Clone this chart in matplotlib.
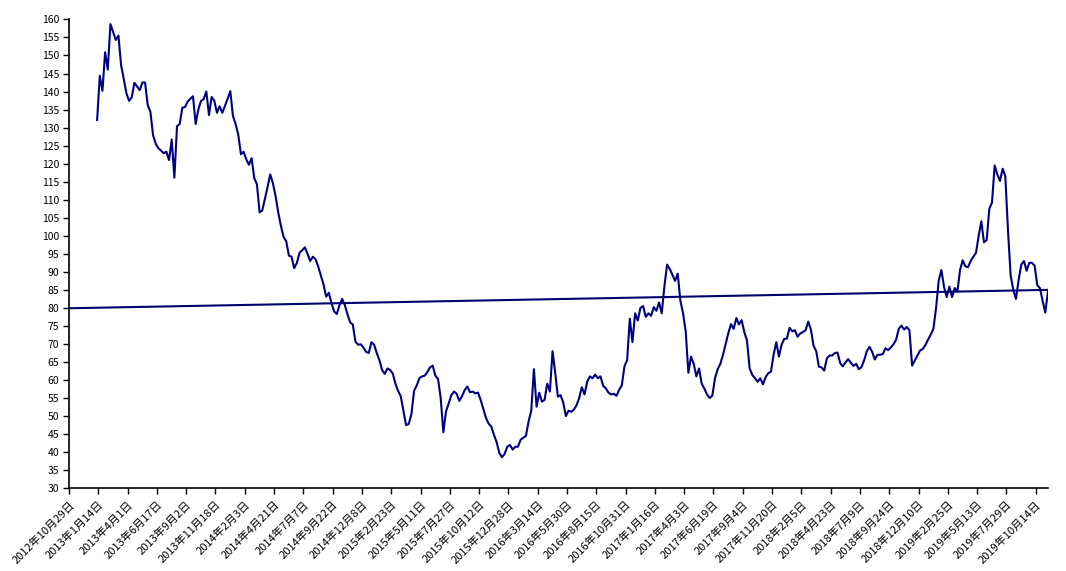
import numpy as np
import pandas as pd
import matplotlib
matplotlib.use("Agg")
import matplotlib.pyplot as plt
import matplotlib.dates as mdates

plt.rcParams["font.family"] = ["Noto Sans CJK SC", "DejaVu Sans"]

# weekly series, first point 2013-01-11
start_date = "2013-01-11"
values = [
    132.1, 144.4, 140.2, 150.9, 146.1, 158.7, 156.5, 154.3, 155.5, 147.3,
    143.5, 139.5, 137.4, 138.4, 142.4, 141.4, 140.4, 142.5, 142.5, 136.2,
    134.4, 127.9, 125.5, 124.3, 123.6, 122.9, 123.3, 121.0, 126.7, 116.1,
    130.4, 131.0, 135.5, 135.7, 137.2, 138.0, 138.7, 131.0, 135.0, 137.4,
    137.9, 140.0, 133.5, 138.5, 137.4, 134.1, 135.9, 134.1, 136.0, 138.0,
    140.1, 133.2, 131.0, 128.0, 122.6, 123.3, 121.2, 119.7, 121.5, 116.0,
    114.3, 106.5, 107.0, 110.2, 113.5, 117.0, 114.6, 111.0, 106.5, 102.8,
    99.7, 98.5, 94.5, 94.2, 91.0, 92.5, 95.3, 96.0, 96.8, 95.0,
    93.0, 94.2, 93.5, 91.5, 89.0, 86.5, 83.1, 84.2, 81.3, 79.0,
    78.3, 80.8, 82.5, 80.8, 78.2, 76.0, 75.4, 70.6, 69.8, 69.9,
    69.0, 67.8, 67.5, 70.5, 69.8, 67.5, 65.5, 62.8, 61.7, 63.2,
    62.8, 61.8, 59.0, 57.0, 55.5, 51.5, 47.5, 47.8, 50.5, 57.0,
    58.5, 60.5, 61.0, 61.2, 62.2, 63.5, 64.0, 61.2, 60.3, 55.0,
    45.5, 51.3, 53.5, 55.8, 56.8, 56.2, 54.2, 55.5, 57.2, 58.2,
    56.6, 56.8, 56.3, 56.5, 54.5, 52.0, 49.5, 47.9, 47.1, 44.8,
    42.8, 39.8, 38.6, 39.5, 41.5, 42.0, 40.7, 41.5, 41.5, 43.4,
    44.0, 44.5, 48.5, 51.5, 63.0, 52.6, 56.5, 54.0, 54.5, 59.0,
    56.8, 68.0, 62.0, 55.4, 55.8, 53.8, 50.0, 51.5, 51.2, 51.8,
    53.0, 55.0, 58.0, 56.0, 59.5, 61.0, 60.5, 61.5, 60.5, 61.0,
    58.4, 57.7, 56.5, 56.0, 56.2, 55.6, 57.3, 58.5, 63.8, 65.5,
    77.0, 70.5, 78.5, 76.5, 80.0, 80.5, 77.5, 78.5, 77.8, 80.2,
    79.2, 81.5, 78.5, 86.0, 92.0, 90.8, 89.2, 87.5, 89.5, 82.0,
    78.5, 73.5, 62.0, 66.5, 64.5, 61.0, 63.2, 59.0, 57.6, 56.0,
    55.0, 55.7, 60.5, 63.0, 64.5, 67.0, 70.0, 73.0, 75.5, 74.2,
    77.2, 75.4, 76.6, 73.3, 71.0, 63.2, 61.4, 60.5, 59.5, 60.5,
    58.8, 60.8, 61.9, 62.3, 67.0, 70.5, 66.5, 69.8, 71.4, 71.5,
    74.5, 73.5, 73.8, 72.0, 72.9, 73.3, 73.8, 76.2, 74.0, 69.5,
    68.0, 63.7, 63.5, 62.6, 66.0, 66.8, 66.8, 67.5, 67.6, 64.7,
    63.8, 64.9, 65.8, 64.8, 63.9, 64.5, 63.0, 63.6, 65.5, 68.0,
    69.2, 67.8, 65.7, 67.0, 67.0, 67.2, 68.8, 68.3, 69.0, 69.9,
    71.2, 74.2, 75.1, 74.0, 74.7, 73.8, 64.0, 65.4, 66.8, 68.2,
    68.6, 69.7, 71.2, 72.6, 74.2, 80.0, 87.6, 90.5, 85.8, 83.0,
    85.9, 83.0, 85.5, 84.5, 90.5, 93.2, 91.5, 91.3, 93.0, 94.2,
    95.3, 100.0, 104.0, 98.2, 98.8, 107.5, 109.2, 119.5, 117.0, 115.2,
    118.6, 116.5, 101.6, 89.0, 85.0, 82.5, 87.8, 92.0, 93.0, 90.3,
    92.5, 92.5, 91.7, 86.3, 85.5, 82.0, 78.7, 84.5,
]

# trend line end points
trend_dates = ["2012-10-29", "2019-11-16"]
trend_values = [79.9, 85.0]

tick_start = "2012-10-29"
n_ticks = 34

dates = pd.date_range(start_date, periods=len(values), freq="7D")
tick_dates = pd.date_range(tick_start, periods=n_ticks, freq="77D")
tick_labels = [f"{d.year}年{d.month}月{d.day}日" for d in tick_dates]

fig = plt.figure(figsize=(10.66, 5.71), dpi=100)
ax = fig.add_axes([0.0647, 0.145, 0.9187, 0.821])

ax.plot(dates, values, color="#000080", linewidth=1.5)
ax.plot(pd.to_datetime(trend_dates), trend_values, color="#00006e", linewidth=1.5)

ax.set_xlim(pd.Timestamp(trend_dates[0]), pd.Timestamp(trend_dates[1]))
ax.set_ylim(30, 160)
ax.set_yticks(np.arange(30, 161, 5))
ax.set_xticks(tick_dates)
ax.set_xticklabels(tick_labels, rotation=45, ha="right", rotation_mode="anchor",
                   fontsize=8)
ax.tick_params(axis="y", labelsize=7.5, direction="out", length=4, width=1, pad=3)
ax.tick_params(axis="x", direction="out", length=4, width=1, pad=4)

for s in ["top", "right"]:
    ax.spines[s].set_visible(False)
for s in ["left", "bottom"]:
    ax.spines[s].set_linewidth(1.2)

fig.savefig("out.png", dpi=100)
